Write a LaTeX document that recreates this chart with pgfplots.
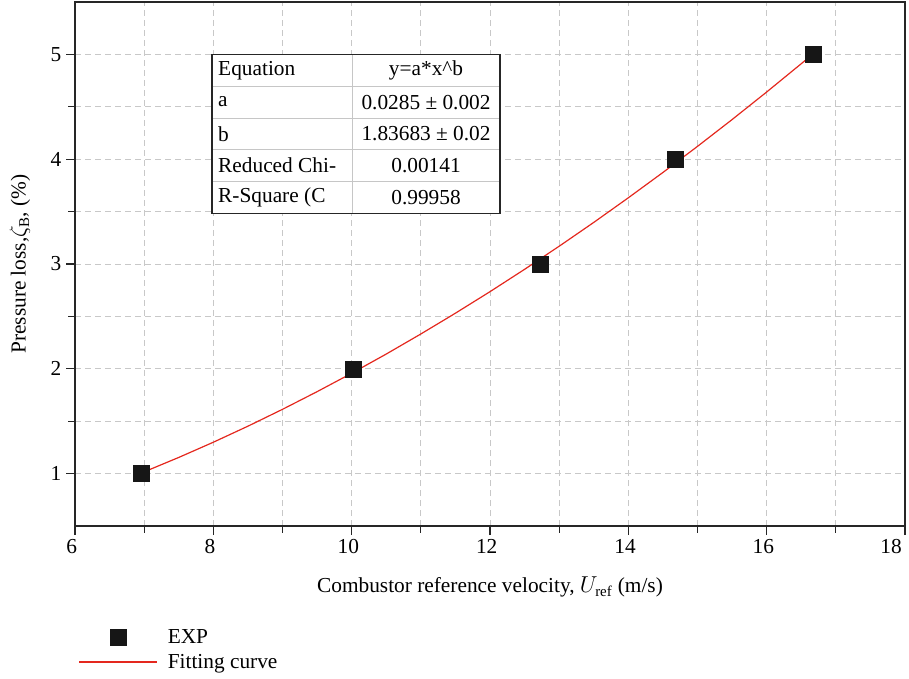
\documentclass[border=0pt]{standalone}
\usepackage{fontspec}
\setmainfont{Liberation Serif}
\usepackage{pgfplots}
\pgfplotsset{compat=1.18}
\definecolor{fitred}{RGB}{228,40,30}
\definecolor{gridgray}{RGB}{200,200,200}
\definecolor{markblack}{RGB}{22,22,22}
\pgfplotsset{
 legmark/.style={legend image code/.code={\draw[markblack,##1] plot coordinates {(29pt,0pt)};}},
 legline/.style={legend image code/.code={\fill[fill=fitred] (0pt,-0.45pt) rectangle (58pt,0.45pt);}},
}
\begin{document}
\begin{tikzpicture}
\path[use as bounding box] (0,0) rectangle (681.75pt,508.5pt);
\begin{axis}[
 at={(56.25pt,114pt)}, anchor=south west,
 width=622.5pt, height=393pt, scale only axis,
 xmin=6, xmax=18, ymin=0.5, ymax=5.5,
 xtick={6,8,...,18}, ytick={1,2,3,4,5},
 xticklabels={6,8,10,12,14,16,{\makebox[0pt][r]{18}}},
 xticklabel style={xshift=-2.5pt},
 minor x tick num=1, minor y tick num=1,
 tick align=outside, tick pos=left,
 major tick length=6.75pt, minor tick length=5pt,
 grid=both,
 major grid style={gridgray, dash pattern=on 4.5pt off 3pt, line width=0.6pt},
 minor grid style={gridgray, dash pattern=on 4.5pt off 3pt, line width=0.6pt},
 axis line style={line width=1pt, black!85},
 every tick/.style={black!85, line width=0.9pt},
 font=\fontsize{16}{19}\selectfont,
 /pgf/number format/assume math mode=true,
 xlabel={Combustor reference velocity, $U_{\mathrm{ref}}$ (m/s)},
 ylabel={Pressure loss,$\zeta_{\mathrm{B}}$, (\%)},
 xlabel style={at={(axis description cs:0.5,-0.1164)}, anchor=center},
 ylabel style={at={(axis description cs:-0.0663,0.5)}, anchor=center},
 legend style={at={(axis description cs:0.004,-0.192)}, anchor=north west, draw=none, fill=none, inner sep=0pt, row sep=2.5pt, column sep=6pt, font=\fontsize{16}{19}\selectfont},
 legend cell align=left,
]
\addplot[only marks, mark=square*, mark size=6pt, color=markblack, legmark]
 coordinates {(6.96,1) (10.03,2) (12.72,3) (14.68,4) (16.68,5)};
\addlegendentry{EXP}
\addplot[fitred, line width=0.9pt, no marks, legline]
 coordinates {(6.96,1.0058) (7.5,1.1542) (8,1.2993) (8.5,1.4524) (9,1.6133) (9.5,1.7818) (10,1.9574) (10.5,2.1409) (11,2.3322) (11.5,2.5306) (12,2.7360) (12.5,2.9492) (13,3.1695) (13.5,3.3969) (14,3.6318) (14.5,3.8734) (15,4.1225) (15.5,4.3782) (16,4.6412) (16.5,4.9111) (16.68,5.0103)};
\addlegendentry{Fitting curve}
% parameter table
\fill[white] (axis cs:7.98,5.0) rectangle (axis cs:12.144,3.479);
\draw[gray!45, line width=0.7pt] (axis cs:7.98,4.6965) -- (axis cs:12.144,4.6965);
\draw[gray!45, line width=0.7pt] (axis cs:7.98,4.393) -- (axis cs:12.144,4.393);
\draw[gray!45, line width=0.7pt] (axis cs:7.98,4.0895) -- (axis cs:12.144,4.0895);
\draw[gray!45, line width=0.7pt] (axis cs:7.98,3.786) -- (axis cs:12.144,3.786);
\draw[gray!45, line width=0.7pt] (axis cs:10.005,5.0) -- (axis cs:10.005,3.479);
\draw[black!85, line width=1pt] (axis cs:7.98,5.0) rectangle (axis cs:12.144,3.479);
\node[anchor=west, inner sep=0pt] at (axis cs:8.067,4.848) {Equation};
\node[anchor=west, inner sep=0pt] at (axis cs:8.067,4.545) {a};
\node[anchor=west, inner sep=0pt] at (axis cs:8.067,4.241) {b};
\node[anchor=west, inner sep=0pt] at (axis cs:8.067,3.938) {Reduced Chi-};
\node[anchor=west, inner sep=0pt] at (axis cs:8.067,3.634) {R-Square (C};
\node[inner sep=0pt] at (axis cs:11.075,4.848) {y=a*x\textasciicircum b};
\node[inner sep=0pt] at (axis cs:11.075,4.545) {0.0285 ± 0.002};
\node[inner sep=0pt] at (axis cs:11.075,4.241) {1.83683 ± 0.02};
\node[inner sep=0pt] at (axis cs:11.075,3.938) {0.00141};
\node[inner sep=0pt] at (axis cs:11.075,3.634) {0.99958};
\end{axis}
\end{tikzpicture}
\end{document}
